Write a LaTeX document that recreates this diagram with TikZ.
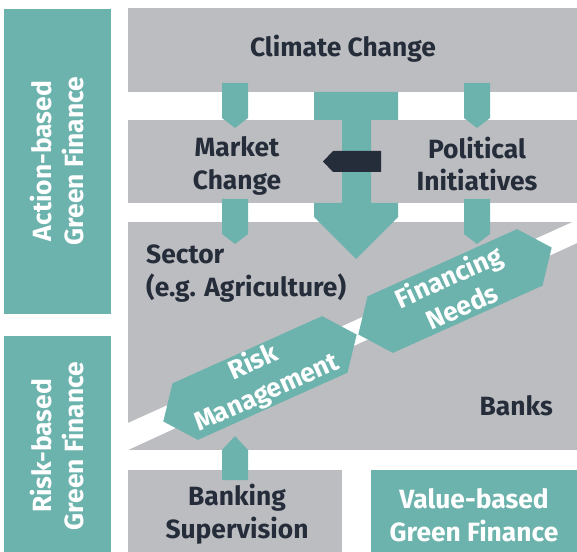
\documentclass[tikz,border=0pt]{standalone}
\usepackage{fontspec}
\setmainfont{Fira Sans}
\usetikzlibrary{calc}
\definecolor{sea}{HTML}{6DB3AD}
\definecolor{stone}{HTML}{BCBDC1}
\definecolor{ink}{HTML}{262D3A}
\def\arrowdown(#1:#2){\fill[sea] ({#1-13},#2) -- ({#1+13},#2) -- ({#1+13},{#2+35}) -- (#1,{#2+45}) -- ({#1-13},{#2+35}) -- cycle;}
\def\arrowup(#1:#2){\fill[sea] ({#1-13},#2) -- ({#1+13},#2) -- ({#1+13},{#2-30}) -- (#1,{#2-44}) -- ({#1-13},{#2-30}) -- cycle;}
\def\bandhex(#1,#2){\fill[sea, shift={(#1,#2)}, rotate=24.2] (-106,0) -- (-82,-31) -- (82,-31) -- (106,0) -- (82,31) -- (-82,31) -- cycle;}
\tikzset{
	lbl/.style={font=\bfseries\fontsize{26.5}{33}\selectfont, text=ink, align=center, inner sep=0},
	lblw/.style={lbl, text=white}
}

\begin{document}
\begin{tikzpicture}[x=1bp, y=-1bp]
		%%%%% START %%%%%
		\useasboundingbox (0, 0) rectangle (577, 552);
		
		\fill[sea] (4, 9) rectangle (111, 314);
		\fill[sea] (4, 336) rectangle (111, 552);
		
		\fill[stone] (128, 8) rectangle (577, 92);
		\fill[stone] (128, 120) rectangle (577, 203);
		\fill[stone] (128, 222) rectangle (577, 450);
		\fill[stone] (128, 470) rectangle (342, 552);
		\fill[sea] (371, 470) rectangle (577, 552);
		
		\fill[white] (128, 423) -- (577, 220) -- (577, 243) -- (128, 450) -- cycle;
		
		\bandhex(260,378)
		\bandhex(455,291)
		
		\arrowdown(235:83)
		\arrowdown(477:83)
		\arrowdown(235:199)
		\arrowdown(477:199)
		\arrowup(235:480)
		
		\fill[sea] (314, 92) -- (398, 92) -- (398, 120) -- (371, 120) -- (371, 203) -- (398, 203) -- (398, 217)
			-- (356, 259) -- (314, 217) -- (314, 203) -- (342, 203) -- (342, 120) -- (314, 120) -- cycle;
		\fill[ink] (381, 151) -- (381, 172) -- (333, 172) -- (323, 161.5) -- (333, 151) -- cycle;
		
		\node[lblw, rotate=90] (action) at (57, 161) {Action-based\\Green Finance};
		\node[lblw, rotate=90] (riskbased) at (57, 446) {Risk-based\\Green Finance};
		
		\node[lbl, anchor=base] (climate) at (343, 57) {Climate Change};
		\node[lbl] (market) at (237, 166) {Market\\Change};
		\node[lbl] (political) at (477, 164) {Political\\Initiatives};
		\node[lbl, align=left, anchor=north west] (sector) at (146, 245) {Sector\\(e.g. Agriculture)};
		\node[lbl, anchor=base east] (banks) at (553, 415) {Banks};
		
		\node[lblw, rotate=24.2] (risk) at (260, 378) {Risk\\Management};
		\node[lblw, rotate=24.2] (financing) at (455, 291) {Financing\\Needs};
		
		\node[lbl] (supervision) at (237, 514) {Banking\\Supervision};
		\node[lblw] (value) at (474, 515) {Value-based\\Green Finance};
		
		%%%%% END %%%%%
	\end{tikzpicture}
\end{document}
